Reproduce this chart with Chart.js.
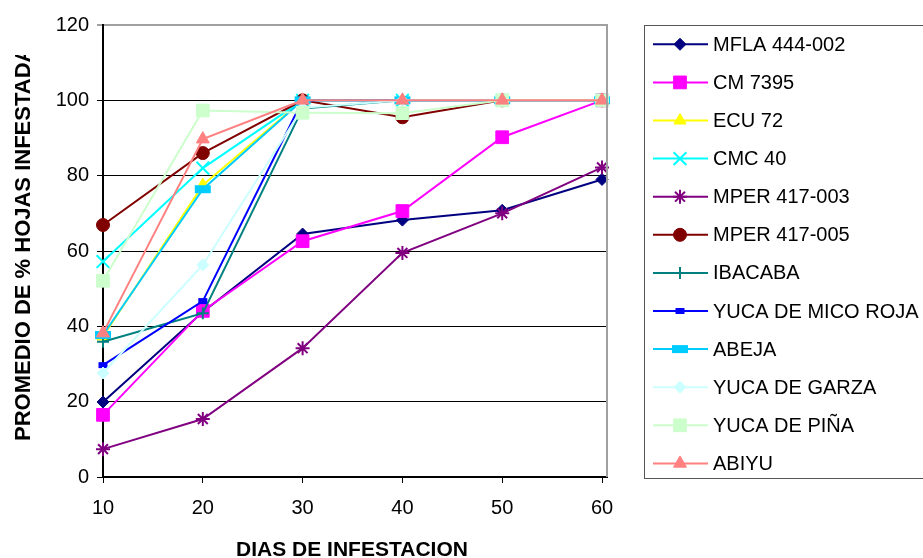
<!DOCTYPE html>
<html>
<head>
<meta charset="utf-8">
<script src="https://cdn.jsdelivr.net/npm/chart.js@4.4.1/dist/chart.umd.min.js"></script>
<style>
  body { margin: 0; background: #fff; }
  canvas { display: block; }
</style>
</head>
<body>
<canvas id="infestChart" width="923" height="558"></canvas>
<script>
// dias de infestacion (eje x) y marcas del eje y
const dias = [10, 20, 30, 40, 50, 60];
const yTicks = [0, 20, 40, 60, 80, 100, 120];

const variedades = ['MFLA 444-002', 'CM 7395', 'ECU 72', 'CMC 40', 'MPER 417-003', 'MPER 417-005',
  'IBACABA', 'YUCA DE MICO ROJA', 'ABEJA', 'YUCA DE GARZA', 'YUCA DE PIÑA', 'ABIYU'];

// % de hojas infestadas, promedio por variedad
const mfla444 = [19.9, 43.8, 64.5, 68.2, 70.8, 79.0];
const cm7395 = [16.5, 44.1, 62.6, 70.6, 90.2, 100];
const ecu72 = [37.3, 77.5, 100, 100, 100, 100];
const cmc40 = [57.2, 82.0, 100, 100, 100, 100];
const mper003 = [7.4, 15.4, 34.2, 59.5, 70.0, 82.2];
const mper005 = [66.9, 86.0, 100, 95.5, 100, 100];
const ibacaba = [35.9, 43.5, 97.8, 100, 100, 100];
const micoRoja = [29.7, 46.7, 100, 100, 100, 100];
const abeja = [37.7, 76.4, 100, 100, 100, 100];
const garza = [27.6, 56.3, 98.0, 100, 100, 100];
const pina = [52.1, 97.3, 96.7, 96.6, 100, 100];
const abiyu = [38.2, 89.7, 100, 100, 100, 100];

const series = [mfla444, cm7395, ecu72, cmc40, mper003, mper005, ibacaba, micoRoja, abeja, garza, pina, abiyu];

// color, marker, size, marker border
const estilos = [
  ['#000080', 'rectRot', 6, 1],
  ['#ff00ff', 'rect', 9, 1],
  ['#ffff00', 'triangle', 7, 1],
  ['#00ffff', 'crossRot', 9, 2],
  ['#800080', 'star', 7, 2],
  ['#800000', 'circle', 6.5, 1],
  ['#008080', 'cross', 6, 2],
  ['#0000ff', 'line', 4.5, 6],
  ['#00ccff', 'line', 8, 8],
  ['#ccffff', 'rectRot', 6, 1],
  ['#ccffcc', 'rect', 9, 1],
  ['#ff8080', 'triangle', 7.5, 1]
];

const FONT = '"Liberation Sans", Arial, sans-serif';

const datasets = series.map((vals, i) => {
  const [color, shape, r, bw] = estilos[i];
  return {
    label: variedades[i],
    data: dias.map((d, k) => ({ x: d, y: vals[k] })),
    borderColor: color,
    backgroundColor: color,
    borderWidth: 2,
    pointStyle: shape,
    pointRadius: r,
    pointBorderWidth: bw,
    pointBackgroundColor: color,
    pointBorderColor: color,
    tension: 0,
    clip: false,
    order: series.length - i
  };
});

const extras = {
  id: 'extras',
  afterDraw(chart) {
    const ctx = chart.ctx;
    const area = chart.chartArea;
    ctx.save();

    // borde derecho del area de trazado
    ctx.strokeStyle = '#a0a0a0';
    ctx.lineWidth = 2;
    ctx.beginPath();
    ctx.moveTo(area.right, area.top - 1);
    ctx.lineTo(area.right, area.bottom);
    ctx.stroke();

    // titulo eje x
    ctx.fillStyle = '#000';
    ctx.font = 'bold 21px ' + FONT;
    ctx.textAlign = 'center';
    ctx.textBaseline = 'alphabetic';
    ctx.fillText('DIAS DE INFESTACION', 352, 556);

    // titulo eje y (queda recortado arriba)
    ctx.save();
    ctx.beginPath();
    ctx.rect(0, 55, 60, 500);
    ctx.clip();
    ctx.translate(30, 441);
    ctx.rotate(-Math.PI / 2);
    ctx.font = 'bold 22px ' + FONT;
    ctx.textAlign = 'left';
    ctx.fillText('PROMEDIO DE % HOJAS INFESTADAS', 0, 0);
    ctx.restore();

    // leyenda
    ctx.strokeStyle = '#555';
    ctx.lineWidth = 1;
    ctx.strokeRect(644.5, 25.5, 300, 453);
    ctx.font = '20px ' + FONT;
    ctx.textAlign = 'left';
    ctx.textBaseline = 'middle';
    chart.data.datasets.forEach((ds, i) => {
      const y = 44.3 + i * 38.1;
      ctx.strokeStyle = ds.borderColor;
      ctx.lineWidth = 2;
      ctx.beginPath();
      ctx.moveTo(653, y);
      ctx.lineTo(708, y);
      ctx.stroke();
      ctx.fillStyle = ds.pointBackgroundColor;
      ctx.lineWidth = ds.pointBorderWidth;
      Chart.helpers.drawPoint(ctx, {
        pointStyle: ds.pointStyle,
        radius: ds.pointRadius,
        borderWidth: ds.pointBorderWidth,
        rotation: 0
      }, 680, y);
      ctx.fillStyle = '#000';
      ctx.fillText(ds.label, 713, y + 1);
    });
    ctx.restore();
  }
};

new Chart(document.getElementById('infestChart'), {
  type: 'line',
  data: { datasets },
  plugins: [extras],
  options: {
    responsive: false,
    animation: false,
    layout: { padding: { left: 0, top: 25, right: 316, bottom: 0 } },
    plugins: {
      legend: { display: false },
      tooltip: { enabled: false }
    },
    scales: {
      x: {
        type: 'linear',
        min: 10,
        max: 60.5,
        afterFit(scale) { scale.height = 81; },
        afterBuildTicks(scale) { scale.ticks = dias.map(v => ({ value: v })); },
        border: { color: '#000', width: 2 },
        grid: { drawOnChartArea: false, color: '#000', tickLength: 6 },
        ticks: { color: '#000', font: { family: FONT, size: 20 }, padding: 13, maxRotation: 0 }
      },
      y: {
        min: 0,
        max: 120,
        afterFit(scale) { scale.width = 103; },
        afterBuildTicks(scale) { scale.ticks = yTicks.map(v => ({ value: v })); },
        border: { color: '#000', width: 2 },
        grid: {
          color: ctx => ctx.tick && ctx.tick.value === 120 ? '#a0a0a0' : '#000',
          lineWidth: ctx => ctx.tick && ctx.tick.value === 120 ? 2 : 1,
          tickLength: 6
        },
        ticks: { color: '#000', font: { family: FONT, size: 20 }, padding: 8 }
      }
    }
  }
});
</script>
</body>
</html>
